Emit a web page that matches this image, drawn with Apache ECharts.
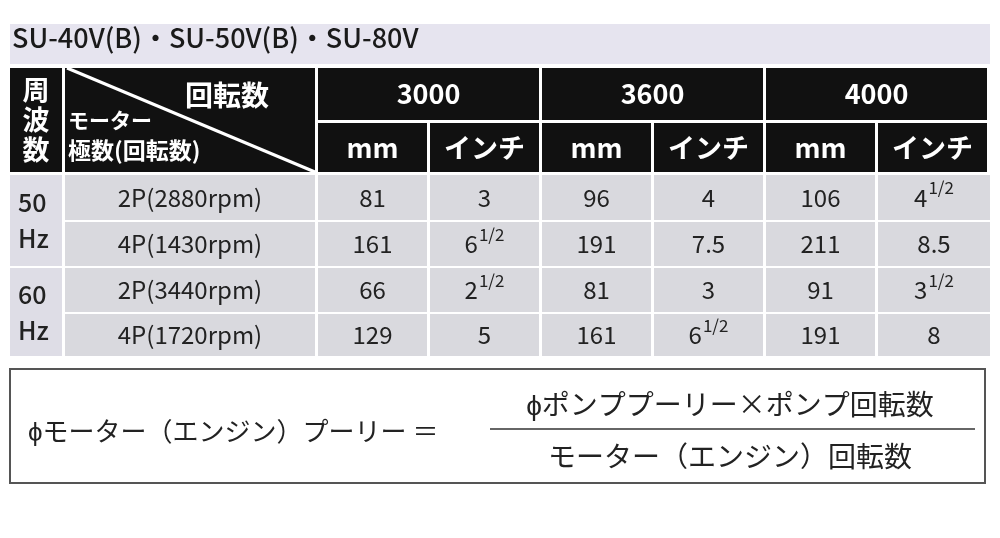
<!DOCTYPE html>
<html><head><meta charset="utf-8">
<script src="https://cdn.jsdelivr.net/npm/echarts@6/dist/echarts.min.js"></script>
<style>html,body{margin:0;background:#fff}#c{width:1000px;height:538px}</style>
</head><body><div id="c"></div>
<script>
// 表のデータ
var title = 'SU-40V(B)・SU-50V(B)・SU-80V';
var speeds = ['3000', '3600', '4000'];
var units = ['mm', 'インチ'];
var freqs = ['50\nHz', '60\nHz'];
var motors = ['2P(2880rpm)', '4P(1430rpm)', '2P(3440rpm)', '4P(1720rpm)'];
var row2880 = ['81', '3', '96', '4', '106', '4 1/2'];
var row1430 = ['161', '6 1/2', '191', '7.5', '211', '8.5'];
var row3440 = ['66', '2 1/2', '81', '3', '91', '3 1/2'];
var row1720 = ['129', '5', '161', '6 1/2', '191', '8'];
var rows = [row2880, row1430, row3440, row1720];

// レイアウト(軸の単位 = px)
var G = 3, FW = 52, MW = 250, VW = 112;
var hdr = [[0, 52], [55, 104]];
var drow = [[107, 152], [154, 198], [200, 244], [246, 288]];
function vx(i) { return FW + G + MW + G + VW * i; }

function fmt(s) {
  var p = s.split(' ');
  return p.length > 1 ? p[0] + '{s|' + p[1] + '}' : s;
}

var cells = [];
cells.push([0, FW, 0, hdr[1][1], '周\n波\n数', 'h']);
cells.push([FW + G, FW + G + MW, 0, hdr[1][1], '', 'diag']);
speeds.forEach(function (s, i) {
  cells.push([vx(2 * i), vx(2 * i + 2) - G, hdr[0][0], hdr[0][1], s, 'h']);
  units.forEach(function (u, j) {
    cells.push([vx(2 * i + j), vx(2 * i + j + 1) - G, hdr[1][0], hdr[1][1], u, 'h']);
  });
});
freqs.forEach(function (f, i) {
  cells.push([0, FW, drow[2 * i][0], drow[2 * i + 1][1], f, 'f']);
});
rows.forEach(function (r, k) {
  cells.push([FW + G, FW + G + MW, drow[k][0], drow[k][1], motors[k], 'd']);
  r.forEach(function (v, i) {
    cells.push([vx(i), vx(i + 1) - (i === 5 ? 0 : G), drow[k][0], drow[k][1], fmt(v), 'd']);
  });
});

var font = '"Noto Sans CJK JP", sans-serif';
var chart = echarts.init(document.getElementById('c'));
chart.setOption({
  backgroundColor: '#fff',
  animation: false,
  grid: { left: 10, right: 15, top: 68, bottom: 182 },
  xAxis: { type: 'value', min: 0, max: 975, show: false },
  yAxis: { type: 'value', min: 0, max: 288, inverse: true, show: false },
  graphic: [
    { type: 'rect', shape: { x: 10, y: 24, width: 980, height: 40 }, style: { fill: '#e6e4ef' } },
    { type: 'text', left: 12, top: 24, style: { text: title, font: '500 27px ' + font, fill: '#1a1a1a' } },
    { type: 'rect', shape: { x: 10, y: 369, width: 975, height: 114 }, style: { fill: '#fff', stroke: '#555', lineWidth: 2 } },
    { type: 'text', x: 28, y: 431, style: { text: 'ϕモーター（エンジン）プーリー ＝', font: '26px ' + font, fill: '#222', verticalAlign: 'middle' } },
    { type: 'text', x: 730, y: 404, style: { text: 'ϕポンププーリー×ポンプ回転数', font: '28px ' + font, fill: '#222', align: 'center', verticalAlign: 'middle' } },
    { type: 'line', shape: { x1: 490, y1: 429, x2: 975, y2: 429 }, style: { stroke: '#333', lineWidth: 1.5 } },
    { type: 'text', x: 730, y: 456, style: { text: 'モーター（エンジン）回転数', font: '28px ' + font, fill: '#222', align: 'center', verticalAlign: 'middle' } }
  ],
  series: [{
    type: 'custom',
    data: cells,
    renderItem: function (params, api) {
      var it = cells[params.dataIndex];
      var p0 = api.coord([it[0], it[2]]), p1 = api.coord([it[1], it[3]]);
      var w = p1[0] - p0[0], h = p1[1] - p0[1];
      var kind = it[5];
      var fill = kind === 'd' ? '#d9d9de' : kind === 'f' ? '#dedde6' : '#111';
      var kids = [{ type: 'rect', shape: { x: p0[0], y: p0[1], width: w, height: h }, style: { fill: fill } }];
      if (kind === 'diag') {
        kids.push({ type: 'line', shape: { x1: p0[0] + 2, y1: p0[1], x2: p1[0], y2: p1[1] }, style: { stroke: '#fff', lineWidth: 3 } });
        kids.push({ type: 'text', style: { x: p0[0] + 120, y: p0[1] + 27, text: '回転数', font: 'bold 28px ' + font, fill: '#fff', verticalAlign: 'middle' } });
        kids.push({ type: 'text', style: { x: p0[0] + 3, y: p0[1] + 52, text: 'モーター', font: 'bold 21px ' + font, fill: '#fff', verticalAlign: 'middle' } });
        kids.push({ type: 'text', style: { x: p0[0] + 3, y: p0[1] + 82, text: '極数(回転数)', font: 'bold 23px ' + font, fill: '#fff', verticalAlign: 'middle' } });
      } else {
        var hd = kind === 'h';
        kids.push({
          type: 'text',
          style: {
            x: kind === 'f' ? p0[0] + 8 : p0[0] + w / 2,
            y: p0[1] + h / 2,
            text: it[4],
            align: kind === 'f' ? 'left' : 'center',
            verticalAlign: 'middle',
            font: (hd ? 'bold 27px ' : (kind === 'f' ? '500 25px ' : '24px ')) + font,
            lineHeight: hd ? 30 : 36,
            fill: hd ? '#fff' : '#222',
            rich: { s: { font: '17px ' + font, fill: '#222', verticalAlign: 'top', padding: [0, 0, 6, 1] } }
          }
        });
      }
      return { type: 'group', children: kids };
    }
  }]
});
</script></body></html>
